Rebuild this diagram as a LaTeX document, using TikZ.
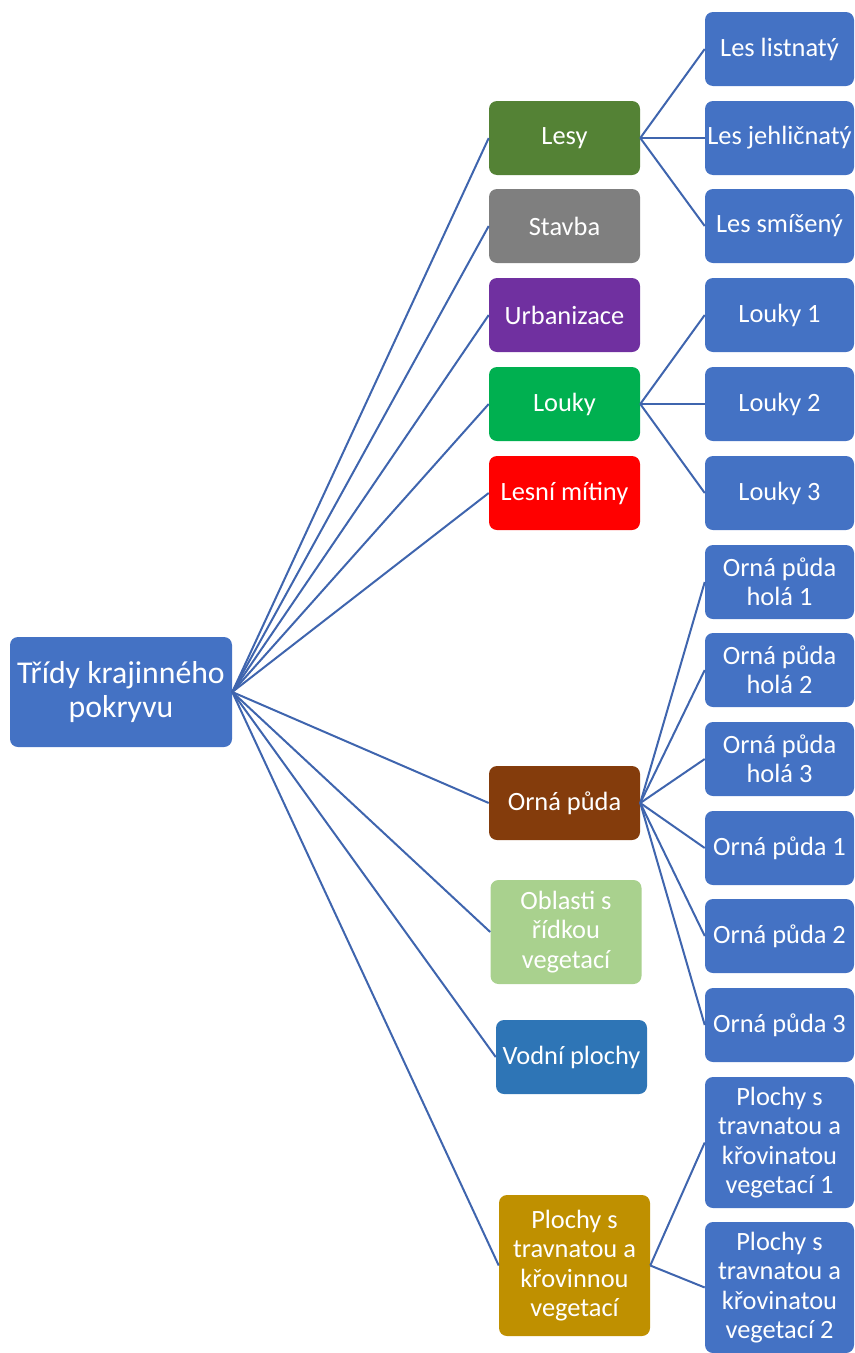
\documentclass[tikz,border=0pt]{standalone}
\usepackage{fontspec}
\setmainfont{Carlito}
\definecolor{boxblue}{HTML}{4472C4}
\definecolor{lesygreen}{HTML}{548235}
\definecolor{stavgray}{HTML}{7F7F7F}
\definecolor{urbpurple}{HTML}{7030A0}
\definecolor{loukgreen}{HTML}{00B050}
\definecolor{mitred}{HTML}{FF0000}
\definecolor{ornbrown}{HTML}{843C0C}
\definecolor{oblgreen}{HTML}{A9D18E}
\definecolor{vodblue}{HTML}{2E75B6}
\definecolor{plogold}{HTML}{BF9000}
\definecolor{linkblue}{HTML}{3F65AE}

\begin{document}
\begin{tikzpicture}[x=0.75pt, y=-0.75pt,
    box/.style={rectangle, rounded corners=6pt, fill=#1, text=white, align=center,
      font=\fontsize{19.8}{21.9}\selectfont, inner sep=0pt},
    mid/.style={box=#1, minimum width=113.25pt, minimum height=55.5pt},
    leaf/.style={box=boxblue, minimum width=111.75pt, minimum height=55.5pt},
    link/.style={draw=linkblue, line width=1.5pt}]
  \useasboundingbox (0,0) rectangle (854,1353);

  \node[box=boxblue, minimum width=166.5pt, minimum height=82.5pt,
    font=\fontsize{23.8}{24.9}\selectfont] (root) at (121,692) {Třídy krajinného\\pokryvu};

  \node[mid=lesygreen] (lesy) at (564.5,138) {Lesy};
  \node[mid=stavgray] (stavba) at (564.5,226) {Stavba};
  \node[mid=urbpurple] (urban) at (564.5,315) {Urbanizace};
  \node[mid=loukgreen] (louky) at (564.5,404) {Louky};
  \node[mid=mitred] (mitiny) at (564.5,493) {Lesní mítiny};
  \node[mid=ornbrown] (orna) at (564.5,803) {Orná půda};
  \node[mid=oblgreen, minimum height=78pt] (oblasti) at (566,932) {Oblasti s\\řídkou\\vegetací};
  \node[mid=vodblue] (voda) at (571.5,1057) {Vodní plochy};
  \node[mid=plogold, minimum height=105.75pt] (plochy) at (574.5,1265.5) {Plochy s\\travnatou a\\křovinnou\\vegetací};

  \node[leaf] (lesa) at (779.5,49) {Les listnatý};
  \node[leaf] (lesb) at (779.5,138) {Les jehličnatý};
  \node[leaf] (lesc) at (779.5,226) {Les smíšený};
  \node[leaf] (lka) at (779.5,315) {Louky 1};
  \node[leaf] (lkb) at (779.5,404) {Louky 2};
  \node[leaf] (lkc) at (779.5,493) {Louky 3};
  \node[leaf] (hola) at (779.5,582) {Orná půda\\holá 1};
  \node[leaf] (holb) at (779.5,670) {Orná půda\\holá 2};
  \node[leaf] (holc) at (779.5,759) {Orná půda\\holá 3};
  \node[leaf] (orna1) at (779.5,848) {Orná půda 1};
  \node[leaf] (orna2) at (779.5,936) {Orná půda 2};
  \node[leaf] (orna3) at (779.5,1025) {Orná půda 3};
  \node[leaf, minimum height=98.25pt] (ploa) at (779.5,1142.5) {Plochy s\\travnatou a\\křovinatou\\vegetací 1};
  \node[leaf, minimum height=98.25pt] (plob) at (779.5,1287.5) {Plochy s\\travnatou a\\křovinatou\\vegetací 2};

  \foreach \m in {lesy,stavba,urban,louky,mitiny,orna,oblasti,voda,plochy}
    \draw[link] (root.east) -- (\m.west);
  \foreach \c in {lesa,lesb,lesc}
    \draw[link] (lesy.east) -- (\c.west);
  \foreach \c in {lka,lkb,lkc}
    \draw[link] (louky.east) -- (\c.west);
  \foreach \c in {hola,holb,holc,orna1,orna2,orna3}
    \draw[link] (orna.east) -- (\c.west);
  \foreach \c in {ploa,plob}
    \draw[link] (plochy.east) -- (\c.west);
\end{tikzpicture}
\end{document}
